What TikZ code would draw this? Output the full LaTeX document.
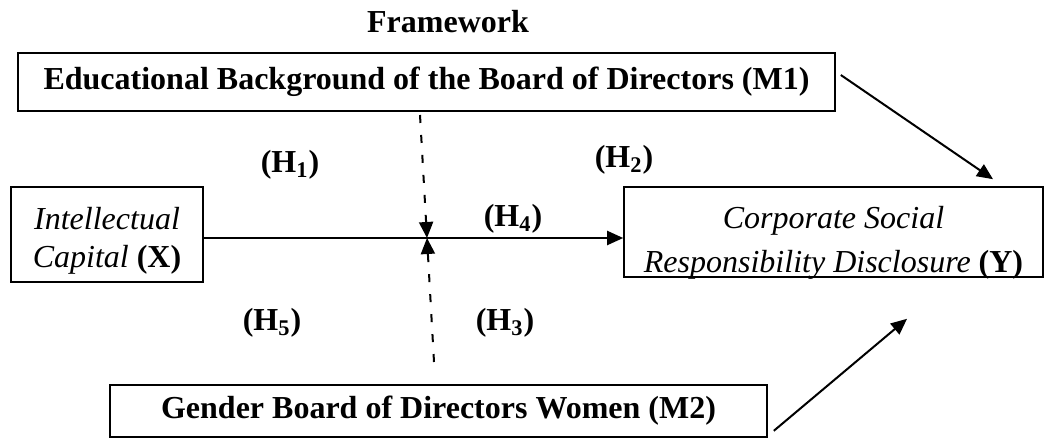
\documentclass[tikz,border=0pt]{standalone}
\usepackage{fontspec}
\setmainfont{Liberation Serif}
\usetikzlibrary{arrows.meta}

\newcommand\figfont{\fontsize{16}{19}\selectfont}

\tikzset{
  varbox/.style={draw,line width=0.8pt,inner sep=0pt,align=center,font=\figfont},
  vartext/.style={inner sep=0pt,align=center,font=\figfont},
  hyplabel/.style={font=\figfont\bfseries},
  link/.style={line width=1pt,-{Triangle[length=8pt,width=7pt]}},
  modlink/.style={link,dash pattern=on 4pt off 6pt}
}

\begin{document}
\begin{tikzpicture}[x=0.5pt,y=-0.5pt]
  \useasboundingbox (0,0) rectangle (1047,438);
  % title
  \node[font=\figfont\bfseries,anchor=base] (title) at (448,33) {Framework};
  % variables
  \node[varbox,minimum width=408.5pt,minimum height=29pt,font=\figfont\bfseries] (m1) at (426.5,82)
    {Educational Background of the Board of Directors (M1)};
  \node[varbox,minimum width=96pt,minimum height=47.5pt] (x) at (107,234.5) {};
  \node[vartext] (xtext) at (107,241) {\textit{Intellectual}\\\textit{Capital} \textbf{(X)}};
  \node[varbox,minimum width=209.5pt,minimum height=45pt] (y) at (833.5,232) {};
  \node[vartext] (ytext) at (833.5,243) {\textit{Corporate Social}\\[3pt]\textit{Responsibility Disclosure} \textbf{(Y)}};
  \node[varbox,minimum width=328.5pt,minimum height=26pt,font=\figfont\bfseries] (m2) at (438.5,411)
    {Gender Board of Directors Women (M2)};
  % hypotheses
  \node[hyplabel] (h1) at (290,165) {(H\textsubscript{1})};
  \node[hyplabel] (h2) at (624,160) {(H\textsubscript{2})};
  \node[hyplabel] (h4) at (513,219) {(H\textsubscript{4})};
  \node[hyplabel] (h5) at (272,323) {(H\textsubscript{5})};
  \node[hyplabel] (h3) at (505,323) {(H\textsubscript{3})};
  % paths
  \coordinate (cross) at (427,238);
  \coordinate (modtop) at (420,115);
  \coordinate (modbot) at (434,362);
  \draw[link] (x.east |- cross) -- (y.west |- cross);
  \draw[modlink] (modtop) -- (cross);
  \draw[modlink] (modbot) -- (cross);
  \draw[link] ([xshift=2.5pt,yshift=3.5pt]m1.east) -- ([xshift=79.75pt,yshift=3.5pt]y.north);
  \draw[link] ([xshift=3pt,yshift=3.5pt]m2.south east) -- ([xshift=36.75pt,yshift=-20.5pt]y.south);
\end{tikzpicture}
\end{document}
